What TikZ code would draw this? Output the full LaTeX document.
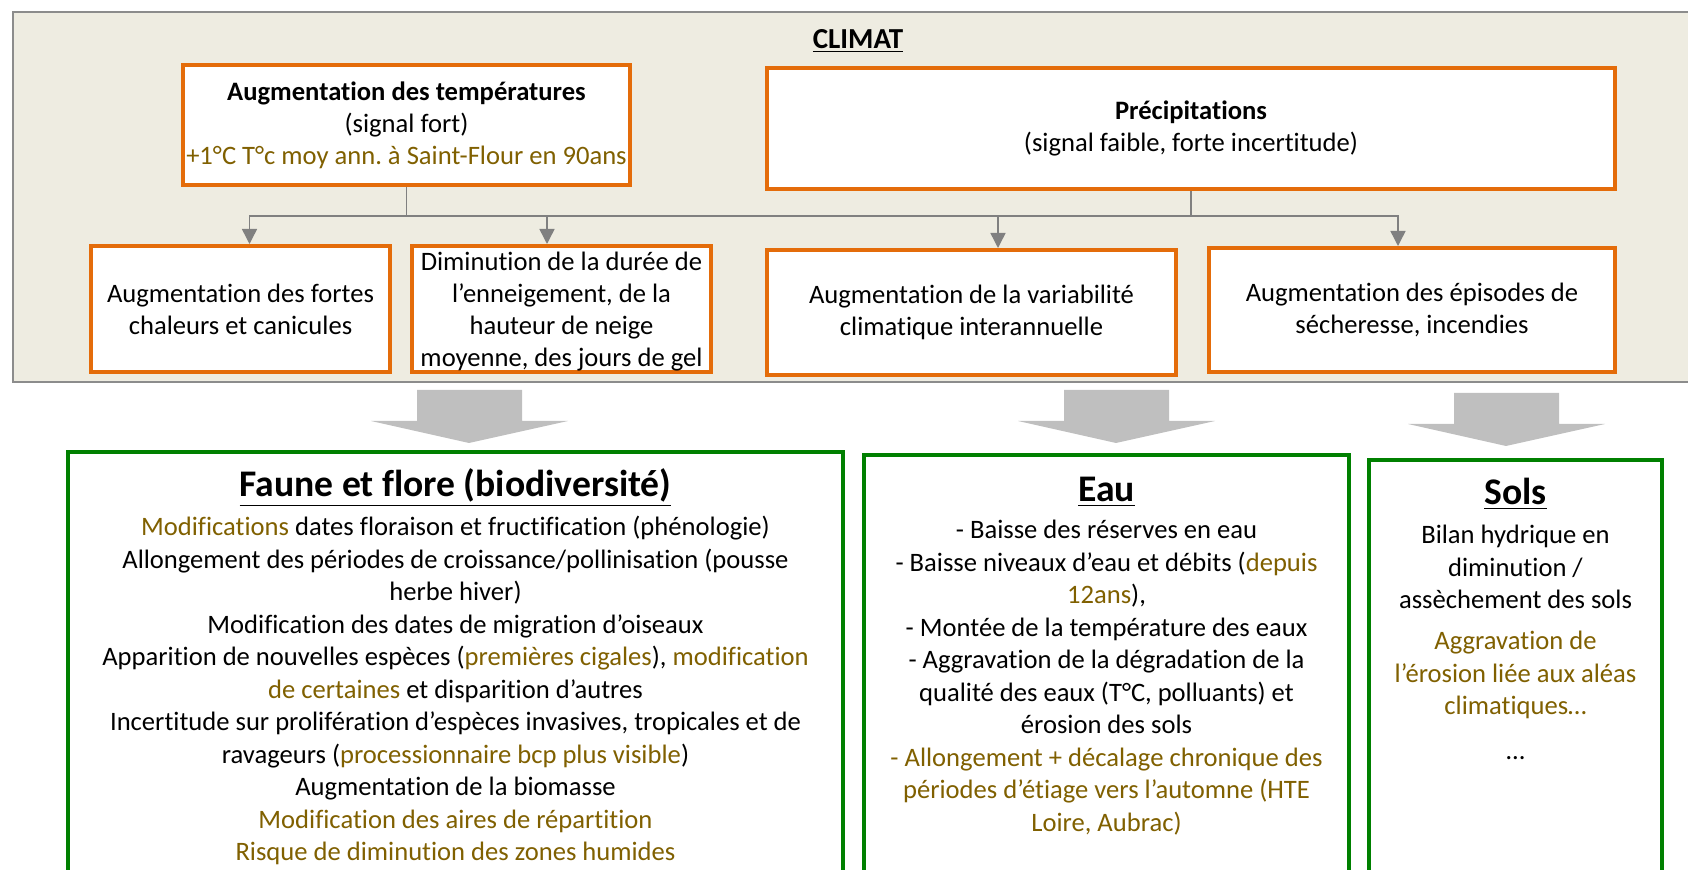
\documentclass[tikz,border=0pt]{standalone}
\usepackage{fontspec}
\setmainfont{Carlito}[Ligatures=NoCommon]
\usepackage{tikz}
\usetikzlibrary{arrows.meta, positioning}
\frenchspacing

\definecolor{climFill}{HTML}{EEECE1}
\definecolor{climBorder}{HTML}{8C8C8C}
\definecolor{causeOrange}{HTML}{E46C0A}
\definecolor{noteOlive}{HTML}{806000}
\definecolor{impactGreen}{HTML}{008000}
\definecolor{linkGray}{HTML}{808080}
\definecolor{blockGray}{HTML}{BFBFBF}

\newcommand{\olive}[1]{\textcolor{noteOlive}{#1}}
\newcommand{\bodyfont}{\fontsize{13.3pt}{16.25pt}\selectfont}
\newcommand{\downBlock}[1]{\fill[blockFill] (#1) -- ++(-98,-22) -- ++(46,0) -- ++(0,-31) -- ++(105,0) -- ++(0,31) -- ++(46,0) -- cycle;}

\tikzstyle{causeBox} = [draw=causeOrange, line width=2pt, fill=white, align=center,
   inner sep=0pt, font=\fontsize{13.3pt}{16pt}\selectfont]
\tikzstyle{impactBox} = [draw=impactGreen, line width=2pt, fill=white, anchor=north]
\tikzstyle{impactTitle} = [anchor=base, inner sep=0pt, font=\fontsize{18.8pt}{22pt}\selectfont\bfseries]
\tikzstyle{impactText} = [align=center, inner sep=0pt, font=\bodyfont]
\tikzstyle{treeLine} = [draw=linkGray, line width=0.75pt]
\tikzstyle{treeArrow} = [treeLine, -{Triangle[width=7.5pt,length=7.5pt]}]
\tikzstyle{blockFill} = [fill=blockGray]

\begin{document}
\begin{tikzpicture}[x=0.5pt, y=-0.5pt]
  \clip (0,0) rectangle (1688,870);

  % climate panel
  \draw[fill=climFill, draw=climBorder, line width=1pt] (13,12) rectangle (1710,382);
  \node[font=\fontsize{14.5pt}{17pt}\selectfont\bfseries] (climat) at (858,41) {\underline{CLIMAT}};

  \node[causeBox, minimum width=223.5pt, minimum height=60pt] (tempBox) at (406.5,125)
    {\textbf{Augmentation des températures}\\(signal fort)\\\olive{+1°C T°c moy ann. à Saint-Flour en 90ans}};
  \node[causeBox, minimum width=424pt, minimum height=60.5pt] (precipBox) at (1191,128.5)
    {\textbf{Précipitations}\\(signal faible, forte incertitude)};

  \node[causeBox, minimum width=149.5pt, minimum height=63pt] (heatBox) at (240.5,309)
    {Augmentation des fortes\\chaleurs et canicules};
  \node[causeBox, minimum width=149.5pt, minimum height=63pt, text depth=-1.5pt] (snowBox) at (561.5,309)
    {Diminution de la durée de\\l’enneigement, de la\\hauteur de neige\\moyenne, des jours de gel};
  \node[causeBox, minimum width=204.5pt, minimum height=62.5pt] (varBox) at (971.5,312.5)
    {Augmentation de la variabilité\\climatique interannuelle};
  \node[causeBox, minimum width=203pt, minimum height=62pt] (droughtBox) at (1412,310)
    {Augmentation des épisodes de\\sécheresse, incendies};

  % tree connectors
  \coordinate (junc) at (0,216);
  \coordinate (heatTip) at ([xshift=4.5pt]heatBox.north);
  \coordinate (snowTip) at ([xshift=-7.25pt]snowBox.north);
  \coordinate (varTip) at ([xshift=13.25pt]varBox.north);
  \coordinate (droughtTip) at ([xshift=-7pt]droughtBox.north);
  \draw[treeLine] (tempBox.south) -- (tempBox.south |- junc) -- (precipBox.south |- junc) -- (precipBox.south);
  \draw[treeArrow] (tempBox.south |- junc) -| (heatTip);
  \draw[treeArrow] (tempBox.south |- junc) -| (snowTip);
  \draw[treeArrow] (precipBox.south |- junc) -| (varTip);
  \draw[treeArrow] (precipBox.south |- junc) -| (droughtTip);

  % impacts
  \node[impactBox, minimum width=387.5pt, minimum height=224pt] (fauneBox) at (455.5,450) {};
  \node[impactBox, minimum width=242.5pt, minimum height=224pt] (eauBox) at (1106.5,453) {};
  \node[impactBox, minimum width=146.5pt, minimum height=224pt] (solsBox) at (1515.5,458) {};

  \downBlock{[xshift=6.75pt,yshift=3.5pt]fauneBox.north}
  \downBlock{[xshift=4.75pt,yshift=5pt]eauBox.north}
  \downBlock{[xshift=-4.75pt,yshift=6pt]solsBox.north}

  \node[impactTitle] (fauneTitle) at ([yshift=-23.5pt]fauneBox.north) {\underline{Faune et flore (biodiversité)}};
  \node[impactTitle] (eauTitle) at ([yshift=-24.5pt]eauBox.north) {\underline{Eau}};
  \node[impactTitle] (solsTitle) at ([yshift=-23.5pt]solsBox.north) {\underline{Sols}};

  \node[impactText, below=33pt of fauneBox.north] (fauneText)
    {\olive{Modifications} dates floraison et fructification (phénologie)\\
     Allongement des périodes de croissance/pollinisation (pousse\\
     herbe hiver)\\
     Modification des dates de migration d’oiseaux\\
     Apparition de nouvelles espèces (\olive{premières cigales}), \olive{modification}\\
     \olive{de certaines} et disparition d’autres\\
     Incertitude sur prolifération d’espèces invasives, tropicales et de\\
     ravageurs (\olive{processionnaire bcp plus visible})\\
     Augmentation de la biomasse\\
     \olive{Modification des aires de répartition}\\
     \olive{Risque de diminution des zones humides}};
  \node[impactText, below=33.5pt of eauBox.north] (eauText)
    {- Baisse des réserves en eau\\
     - Baisse niveaux d’eau et débits (\olive{depuis}\\
     \olive{12ans}),\\
     - Montée de la température des eaux\\
     - Aggravation de la dégradation de la\\
     qualité des eaux (T°C, polluants) et\\
     érosion des sols\\
     \olive{- Allongement + décalage chronique des}\\
     \olive{périodes d’étiage vers l’automne (HTE}\\
     \olive{Loire, Aubrac)}};
  \node[impactText, below=33.5pt of solsBox.north] (solsText)
    {Bilan hydrique en\\
     diminution /\\
     assèchement des sols\\[4.25pt]
     \olive{Aggravation de}\\
     \olive{l’érosion liée aux aléas}\\
     \olive{climatiques…}\\[6.25pt]
     …};
\end{tikzpicture}
\end{document}
